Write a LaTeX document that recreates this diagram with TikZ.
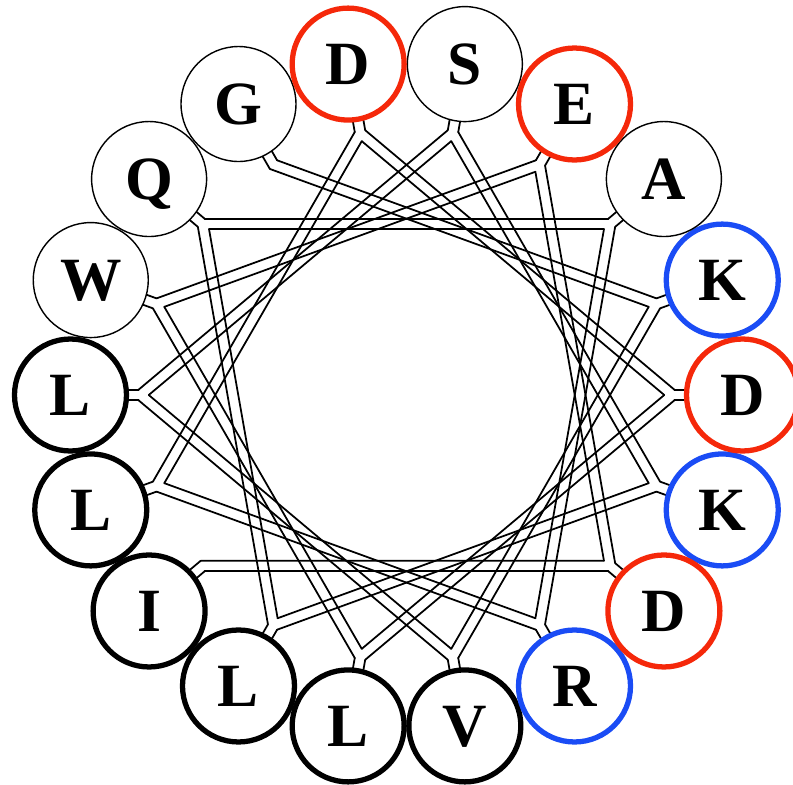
\documentclass[tikz,border=0pt]{standalone}
\usepackage{fontspec}
\setmainfont{Liberation Serif}
\usepackage{tikz}
\usetikzlibrary{calc}
\definecolor{resred}{HTML}{F5280A}
\definecolor{resblue}{HTML}{1A4CF5}
\tikzset{
  band/.style={draw=black, line width=1pt, line cap=round},
  res/.style={circle, fill=white, inner sep=0pt, font=\bfseries\fontsize{35}{35}\selectfont,
    text height=23.2pt, text depth=0pt},
  plain/.style={res, draw=black, line width=0.8pt, minimum size=2.3cm},
  apolar/.style={res, draw=black, line width=3pt, minimum size=2.24cm},
  anion/.style={apolar, draw=resred},
  cation/.style={apolar, draw=resblue}
}
\begin{document}
\begin{tikzpicture}[x=0.02cm, y=0.02cm]
  \def\R{336}
  \def\Rin{266}
  \def\hw{5.3}
  \clip (-406.5,-389) rectangle (386.5,395);
  % spoke ends and band corners
  \foreach \n in {0,...,17}{
    \pgfmathsetmacro\m{120-100*\n}
    \coordinate (P\n) at (\m:\Rin);
    \coordinate (V\n) at ($(P\n)+(\m+180:1.556*\hw)$);
    \coordinate (R\n) at ($(P\n)+(\m-70:1.064*\hw)$);
    \coordinate (L\n) at ($(P\n)+(\m+70:1.064*\hw)$);
  }
  % free ends of the chain
  \coordinate (L0) at ($(P0)+(230:1.064*\hw)$);
  \coordinate (V0) at (L0);
  \coordinate (R17) at ($(P17)+(110:1.064*\hw)$);
  \coordinate (V17) at (R17);
  % spokes
  \foreach \n in {0,...,17}{
    \pgfmathsetmacro\m{120-100*\n}
    \draw[band] (R\n) -- ++(\m:40);
    \draw[band] (L\n) -- ++(\m:40);
  }
  % backbone
  \foreach \n [evaluate=\n as \k using int(\n+1)] in {0,...,16}{
    \draw[band] (R\n) -- (L\k);
    \draw[band] (V\n) -- (V\k);
  }
  % residues
  \foreach \n/\aa/\kind in {0/G/plain, 1/K/cation, 2/V/apolar, 3/L/apolar, 4/S/plain,
      5/K/cation, 6/L/apolar, 7/Q/plain, 8/A/plain, 9/R/cation, 10/L/apolar, 11/D/anion,
      12/D/anion, 13/L/apolar, 14/W/plain, 15/E/anion, 16/D/anion, 17/I/apolar}{
    \node[\kind] (res\n) at ({120-100*\n}:\R) {\aa};
  }
\end{tikzpicture}
\end{document}
